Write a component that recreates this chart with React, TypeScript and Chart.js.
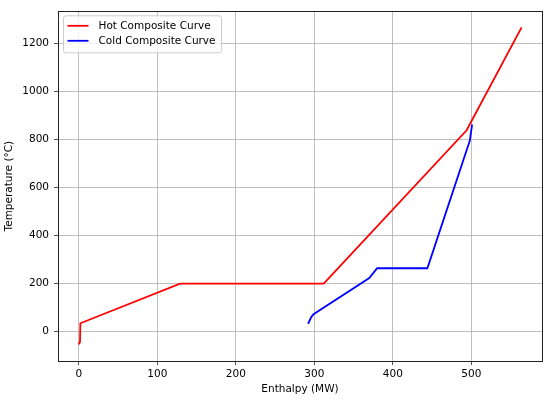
import React, { useEffect, useRef } from "react";
import { Chart, registerables } from "chart.js";

Chart.register(...registerables);

// ---- Data ----
const hotEnthalpy = [0, 1.5, 2, 129, 312, 494, 564];
const hotTemperature = [-53, -43, 35, 200, 200, 838, 1266];

const coldEnthalpy = [292, 296, 299, 370, 380, 444, 498, 501];
const coldTemperature = [33, 60, 73, 223, 264, 264, 794, 862];

const xTickValues = [0, 100, 200, 300, 400, 500];
const yTickValues = [0, 200, 400, 600, 800, 1000, 1200];

const hotLabel = "Hot Composite Curve";
const coldLabel = "Cold Composite Curve";
const xTitle = "Enthalpy (MW)";
const yTitle = "Temperature (°C)";

const FONT = "'DejaVu Sans', sans-serif";
const FSIZE = 10.5;

const toPoints = (xs: number[], ys: number[]) => xs.map((x, i) => ({ x, y: ys[i] }));

const framePlugin = {
  id: "mplFrame",
  afterDatasetsDraw(chart: any) {
    const { ctx, chartArea } = chart;
    const { left, right, top, bottom } = chartArea;
    ctx.save();
    ctx.strokeStyle = "#222";
    ctx.lineWidth = 1;
    ctx.strokeRect(Math.round(left) + 0.5, Math.round(top) + 0.5, Math.round(right - left), Math.round(bottom - top));
    ctx.restore();
  },
};

const legendPlugin = {
  id: "mplLegend",
  afterDraw(chart: any) {
    const { ctx, chartArea } = chart;
    const datasets = chart.data.datasets;
    ctx.save();
    ctx.font = `${FSIZE}px ${FONT}`;
    let maxW = 0;
    datasets.forEach((d: any) => {
      maxW = Math.max(maxW, ctx.measureText(d.label).width);
    });
    const x0 = chartArea.left + 5.5;
    const y0 = chartArea.top + 4.5;
    const textOffset = 35;
    const w = textOffset + maxW + 6;
    const h = 37;
    const r = 2.5;
    ctx.beginPath();
    ctx.moveTo(x0 + r, y0);
    ctx.lineTo(x0 + w - r, y0);
    ctx.arcTo(x0 + w, y0, x0 + w, y0 + r, r);
    ctx.lineTo(x0 + w, y0 + h - r);
    ctx.arcTo(x0 + w, y0 + h, x0 + w - r, y0 + h, r);
    ctx.lineTo(x0 + r, y0 + h);
    ctx.arcTo(x0, y0 + h, x0, y0 + h - r, r);
    ctx.lineTo(x0, y0 + r);
    ctx.arcTo(x0, y0, x0 + r, y0, r);
    ctx.closePath();
    ctx.fillStyle = "rgba(255,255,255,0.8)";
    ctx.fill();
    ctx.strokeStyle = "#cccccc";
    ctx.lineWidth = 1;
    ctx.stroke();
    datasets.forEach((d: any, i: number) => {
      const y = y0 + 10 + i * 15;
      ctx.beginPath();
      ctx.strokeStyle = d.borderColor;
      ctx.lineWidth = 1.8;
      ctx.moveTo(x0 + 4, y);
      ctx.lineTo(x0 + 25, y);
      ctx.stroke();
      ctx.fillStyle = "#000";
      ctx.textAlign = "left";
      ctx.textBaseline = "middle";
      ctx.fillText(d.label, x0 + textOffset, y + 0.5);
    });
    ctx.restore();
  },
};

const plain = (v: any) => String(v);

export default function App() {
  const canvasRef = useRef<HTMLCanvasElement | null>(null);

  useEffect(() => {
    const canvas = canvasRef.current;
    if (!canvas) return;
    const chart = new Chart(canvas, {
      type: "line",
      data: {
        datasets: [
          {
            label: hotLabel,
            data: toPoints(hotEnthalpy, hotTemperature),
            borderColor: "#ff0000",
            backgroundColor: "#ff0000",
            borderWidth: 1.8,
            pointRadius: 0,
            tension: 0,
            fill: false,
          },
          {
            label: coldLabel,
            data: toPoints(coldEnthalpy, coldTemperature),
            borderColor: "#0000ff",
            backgroundColor: "#0000ff",
            borderWidth: 1.8,
            pointRadius: 0,
            tension: 0,
            fill: false,
          },
        ],
      },
      options: {
        animation: false,
        responsive: false,
        devicePixelRatio: 1,
        layout: { padding: { top: 6, right: 8, left: 0, bottom: 0 } },
        plugins: {
          legend: { display: false },
          tooltip: { enabled: false },
        },
        scales: {
          x: {
            type: "linear",
            min: -26.5,
            max: 590,
            afterFit: (s: any) => {
              s.height = 39;
            },
            afterBuildTicks: (s: any) => {
              s.ticks = xTickValues.map((v) => ({ value: v }));
            },
            grid: {
              color: "#b0b0b0",
              lineWidth: 0.8,
              drawTicks: true,
              tickLength: 4,
              tickColor: "#222",
            },
            border: { display: false },
            ticks: {
              color: "#000",
              font: { family: FONT, size: FSIZE },
              padding: 3,
              maxRotation: 0,
              autoSkip: false,
              callback: plain,
            },
            title: {
              display: true,
              text: xTitle,
              color: "#000",
              font: { family: FONT, size: FSIZE },
              padding: { top: 0, bottom: 4 },
            },
          },
          y: {
            type: "linear",
            min: -122,
            max: 1333,
            afterFit: (s: any) => {
              s.width = 58;
            },
            afterBuildTicks: (s: any) => {
              s.ticks = yTickValues.map((v) => ({ value: v }));
            },
            grid: {
              color: "#b0b0b0",
              lineWidth: 0.8,
              drawTicks: true,
              tickLength: 4,
              tickColor: "#222",
            },
            border: { display: false },
            ticks: {
              color: "#000",
              font: { family: FONT, size: FSIZE },
              padding: 5,
              autoSkip: false,
              callback: plain,
            },
            title: {
              display: true,
              text: yTitle,
              color: "#000",
              font: { family: FONT, size: FSIZE },
              padding: { top: 3, bottom: 0 },
            },
          },
        },
      },
      plugins: [framePlugin, legendPlugin],
    });
    return () => chart.destroy();
  }, []);

  return (
    <div style={{ position: "absolute", left: 0, top: 0, width: 550, height: 400, background: "#fff" }}>
      <canvas ref={canvasRef} width={550} height={400} style={{ display: "block" }} />
    </div>
  );
}
